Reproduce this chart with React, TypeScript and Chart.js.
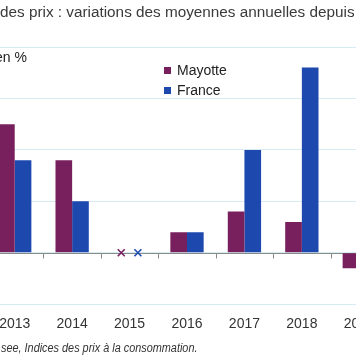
import React, { useEffect, useRef } from "react";
import { Chart, registerables } from "chart.js";

Chart.register(...registerables);

const years = ["2013", "2014", "2015", "2016", "2017", "2018", "2019"];
const mayotte = [1.25, 0.9, 0, 0.2, 0.4, 0.3, -0.15];
const france = [0.9, 0.5, 0, 0.2, 1.0, 1.8, 1.1];
const seriesNames = ["Mayotte", "France"];
const yMin = -0.5;
const yMax = 2.0;
const yStep = 0.5;

const titleText = "des prix : variations des moyennes annuelles depuis";
const unitText = "en %";
const sourceText = "see, Indices des prix à la consommation.";

const MAYOTTE_COLOR = "#78205e";
const FRANCE_COLOR = "#1d48ad";
const GRID_COLOR = "#d6ecf3";
const FONT = "'Liberation Sans', Arial, sans-serif";

const CANVAS_LEFT = -40;
const CANVAS_W = 436;
const CANVAS_H = 364;

const zeroAxisPlugin = {
  id: "zeroAxis",
  beforeDatasetsDraw(chart: any) {
    const { ctx, chartArea, scales } = chart;
    const y0 = Math.round(scales.y.getPixelForValue(0)) + 0.5;
    ctx.save();
    ctx.strokeStyle = "#8a8a8a";
    ctx.lineWidth = 1;
    ctx.beginPath();
    ctx.moveTo(chartArea.left, y0);
    ctx.lineTo(chartArea.right, y0);
    const n = chart.data.labels.length;
    for (let i = 0; i < n - 1; i++) {
      const xb = Math.round((scales.x.getPixelForValue(i) + scales.x.getPixelForValue(i + 1)) / 2) + 0.5;
      ctx.moveTo(xb, y0);
      ctx.lineTo(xb, y0 + 5);
    }
    ctx.stroke();
    ctx.restore();
  },
  afterDatasetsDraw(chart: any) {
    const { ctx, scales } = chart;
    const y0 = scales.y.getPixelForValue(0);
    ctx.save();
    ctx.lineWidth = 1.6;
    chart.data.datasets.forEach((ds: any, di: number) => {
      const meta = chart.getDatasetMeta(di);
      ds.data.forEach((v: number, i: number) => {
        if (v !== 0) return;
        const el = meta.data[i];
        const s = 3.5;
        ctx.strokeStyle = ds.backgroundColor;
        ctx.beginPath();
        ctx.moveTo(el.x - s, y0 - s);
        ctx.lineTo(el.x + s, y0 + s);
        ctx.moveTo(el.x + s, y0 - s);
        ctx.lineTo(el.x - s, y0 + s);
        ctx.stroke();
      });
    });
    ctx.restore();
  },
};

export default function App() {
  const ref = useRef<HTMLCanvasElement>(null);

  useEffect(() => {
    if (!ref.current) return;
    const chart = new Chart(ref.current, {
      type: "bar",
      data: {
        labels: years,
        datasets: [
          { label: seriesNames[0], data: mayotte, backgroundColor: MAYOTTE_COLOR, categoryPercentage: 0.58, barPercentage: 1 },
          { label: seriesNames[1], data: france, backgroundColor: FRANCE_COLOR, categoryPercentage: 0.58, barPercentage: 1 },
        ],
      },
      options: {
        animation: false,
        responsive: false,
        layout: { padding: { top: 47, bottom: 19, left: 26, right: 8 } },
        plugins: { legend: { display: false }, tooltip: { enabled: false } },
        scales: {
          x: {
            offset: true,
            grid: { display: false, drawTicks: false },
            border: { display: false },
            ticks: { color: "#333", font: { family: FONT, size: 14 }, padding: 12, maxRotation: 0 },
          },
          y: {
            min: yMin,
            max: yMax,
            ticks: { display: false, stepSize: yStep },
            grid: { color: GRID_COLOR, lineWidth: 1, drawTicks: false },
            border: { display: false },
          },
        },
      },
      plugins: [zeroAxisPlugin],
    });
    return () => chart.destroy();
  }, []);

  const legendItem = (name: string, color: string, top: number) => (
    <div style={{ position: "absolute", left: 164, top, height: 20, display: "flex", alignItems: "center", fontFamily: FONT, fontSize: 14, color: "#222" }}>
      <span style={{ display: "inline-block", width: 7, height: 7, background: color, marginRight: 6 }} />
      <span>{name}</span>
    </div>
  );

  return (
    <div style={{ position: "fixed", left: 0, top: 0, width: 356, height: 364, overflow: "hidden", background: "#fff" }}>
      <canvas ref={ref} width={CANVAS_W} height={CANVAS_H} style={{ position: "absolute", left: CANVAS_LEFT, top: 0, width: CANVAS_W, height: CANVAS_H }} />
      <div style={{ position: "absolute", left: 0, top: 2, whiteSpace: "nowrap", fontFamily: FONT, fontSize: 15.3, color: "#3a3a3a", lineHeight: "20px" }}>{titleText}</div>
      <div style={{ position: "absolute", right: 356 - 27, top: 48, whiteSpace: "nowrap", fontFamily: FONT, fontSize: 14, color: "#222", lineHeight: "18px" }}>{unitText}</div>
      {legendItem(seriesNames[0], MAYOTTE_COLOR, 60)}
      {legendItem(seriesNames[1], FRANCE_COLOR, 80)}
      <div style={{ position: "absolute", left: 1, top: 340, whiteSpace: "nowrap", fontFamily: FONT, fontStyle: "italic", fontSize: 12.5, color: "#333", lineHeight: "16px", transform: "scaleX(0.87)", transformOrigin: "left center" }}>{sourceText}</div>
    </div>
  );
}
